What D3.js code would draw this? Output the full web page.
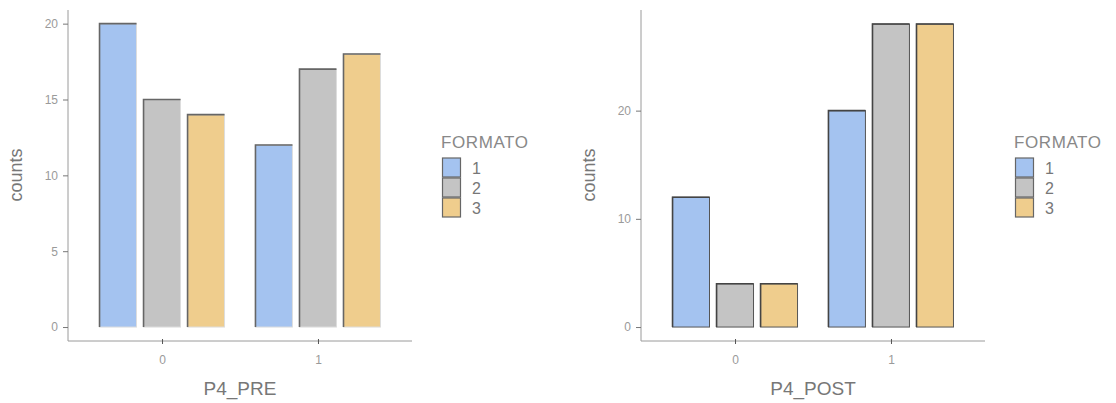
<!DOCTYPE html>
<html>
<head>
<meta charset="utf-8">
<script src="https://cdn.jsdelivr.net/npm/d3@7"></script>
<style>
  html, body { margin: 0; padding: 0; background: #fff; }
  svg { display: block; font-family: "Liberation Sans", Arial, sans-serif; }
</style>
</head>
<body>
<svg id="chart" width="1116" height="403"></svg>
<script>
// Response categories on the x axis and the three FORMATO groups
const categories = ["0", "1"];
const formatos = ["1", "2", "3"];
const colors = ["#A4C3F0", "#C4C4C4", "#EFCD8D"];

// Counts per category, one array per FORMATO
const preCounts = {
  "1": [20, 12],
  "2": [15, 17],
  "3": [14, 18]
};
const postCounts = {
  "1": [12, 20],
  "2": [4, 28],
  "3": [4, 28]
};

const preTicks = [0, 5, 10, 15, 20];
const postTicks = [0, 10, 20];

const svg = d3.select("#chart");

function panel(opts) {
  const g = svg.append("g");
  const y = d3.scaleLinear().domain(opts.yDomain).range([341, 10]);
  const x = d3.scalePoint().domain(categories).range([opts.x0, opts.x0 + 344]).padding(0.603);
  const inner = d3.scaleBand().domain(formatos).range([-62.5, 62.5]).paddingInner(0.16);

  // bars
  formatos.forEach((f, fi) => {
    const vals = opts.data[f];
    categories.forEach((c, ci) => {
      const bx = x(c) + inner(f);
      const bw = inner.bandwidth();
      const top = y(vals[ci]);
      const base = y(0);
      g.append("rect")
        .attr("x", bx).attr("y", top)
        .attr("width", bw).attr("height", base - top)
        .attr("fill", colors[fi])
        .attr("stroke", opts.strokeLight)
        .attr("stroke-width", 1);
      // darker top and left edges
      g.append("path")
        .attr("d", `M${bx},${base}V${top}H${bx + bw}`)
        .attr("fill", "none")
        .attr("stroke", opts.strokeDark)
        .attr("stroke-width", 1.6);
    });
  });

  // y axis
  const yAxis = d3.axisLeft(y).tickValues(opts.yTicks).tickSize(5).tickPadding(5);
  const ya = g.append("g").attr("transform", `translate(${opts.x0},0)`).call(yAxis);
  ya.select(".domain").attr("stroke", "#9a9a9a").attr("d", `M0,10V341`);
  ya.selectAll(".tick line").attr("stroke", "#777");
  ya.selectAll(".tick text").attr("fill", "#9a9a9a").style("font-size", "12px");

  // x axis
  const xAxis = d3.axisBottom(x).tickSize(5).tickPadding(9);
  const xa = g.append("g").attr("transform", `translate(0,341)`).call(xAxis);
  xa.select(".domain").attr("stroke", "#9a9a9a").attr("d", `M${opts.x0},0H${opts.x0 + 344}`);
  xa.selectAll(".tick line").attr("stroke", "#555").attr("y1", -2).attr("y2", 3);
  xa.selectAll(".tick text").attr("fill", "#9a9a9a").style("font-size", "12px");

  // axis titles
  g.append("text")
    .attr("transform", `translate(${opts.x0 - 46},175) rotate(-90)`)
    .attr("text-anchor", "middle")
    .attr("fill", "#777")
    .style("font-size", "18px")
    .text("counts");
  g.append("text")
    .attr("x", opts.x0 + 172).attr("y", 395)
    .attr("text-anchor", "middle")
    .attr("fill", "#777")
    .style("font-size", "19px")
    .text(opts.xTitle);

  // legend
  const lg = g.append("g").attr("transform", `translate(${opts.legendX},0)`);
  lg.append("text")
    .attr("x", 0).attr("y", 148)
    .attr("fill", "#888")
    .style("font-size", "17px")
    .style("letter-spacing", "0.6px")
    .text("FORMATO");
  formatos.forEach((f, i) => {
    lg.append("rect")
      .attr("x", 1.5).attr("y", 158 + i * 20)
      .attr("width", 18).attr("height", 19)
      .attr("fill", colors[i])
      .attr("stroke", "#666")
      .attr("stroke-width", 1.2);
    lg.append("text")
      .attr("x", 31).attr("y", 158 + i * 20 + 15.5)
      .attr("fill", "#777")
      .style("font-size", "16px")
      .text(f);
  });
}

panel({
  x0: 68, yDomain: [-0.92, 20.9], yTicks: preTicks, data: preCounts,
  xTitle: "P4_PRE", legendX: 441, strokeDark: "#666", strokeLight: "#ddd"
});
panel({
  x0: 641, yDomain: [-1.29, 29.3], yTicks: postTicks, data: postCounts,
  xTitle: "P4_POST", legendX: 1014, strokeDark: "#444", strokeLight: "#555"
});
</script>
</body>
</html>
